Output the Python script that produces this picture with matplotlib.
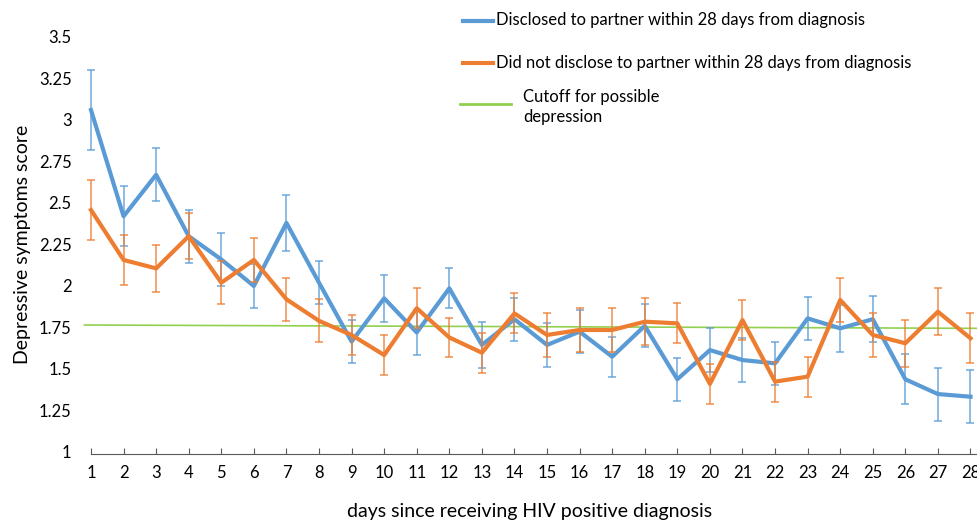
import matplotlib
matplotlib.use("Agg")
import matplotlib.pyplot as plt
from matplotlib.lines import Line2D
from matplotlib.colors import to_rgba

days = list(range(1, 29))
disclosed = [3.06, 2.42, 2.67, 2.30, 2.16, 2.00, 2.38, 2.02, 1.665, 1.926, 1.72, 1.986, 1.645, 1.80,
             1.645, 1.725, 1.574, 1.76, 1.438, 1.614, 1.554, 1.534, 1.805, 1.745, 1.80, 1.438, 1.349, 1.333]
disclosed_err = [0.24, 0.18, 0.16, 0.16, 0.16, 0.13, 0.17, 0.13, 0.13, 0.14, 0.135, 0.12, 0.14, 0.13,
                 0.13, 0.13, 0.12, 0.13, 0.13, 0.13, 0.13, 0.13, 0.13, 0.14, 0.14, 0.15, 0.16, 0.16]
not_disclosed = [2.458, 2.157, 2.106, 2.30, 2.02, 2.157, 1.92, 1.79, 1.705, 1.584, 1.866, 1.69, 1.598, 1.835,
                 1.705, 1.735, 1.735, 1.785, 1.775, 1.41, 1.795, 1.424, 1.454, 1.916, 1.705, 1.655, 1.845, 1.685]
not_disclosed_err = [0.18, 0.15, 0.14, 0.14, 0.13, 0.13, 0.13, 0.13, 0.12, 0.12, 0.12, 0.12, 0.12, 0.12,
                     0.13, 0.13, 0.13, 0.14, 0.12, 0.12, 0.12, 0.12, 0.12, 0.13, 0.13, 0.14, 0.14, 0.15]
cutoff_x = [0.8, 28.2]
cutoff_y = [1.765, 1.745]
yticks = [1, 1.25, 1.5, 1.75, 2, 2.25, 2.5, 2.75, 3, 3.25, 3.5]
ytick_labels = ["1", "1.25", "1.5", "1.75", "2", "2.25", "2.5", "2.75", "3", "3.25", "3.5"]

BLUE = "#5B9BD5"
ORANGE = "#ED7D31"
GREEN = "#92D050"

plt.rcParams['font.family'] = ['Lato', 'DejaVu Sans']

fig = plt.figure(figsize=(9.77, 5.22), dpi=100)
ax = fig.add_axes([91 / 977, 1 - 452 / 522, 1 - 91 / 977, (452 - 37) / 522])
ax.set_xlim(1, 28.2)
ax.set_ylim(1, 3.5)

ax.plot(cutoff_x, cutoff_y, color=GREEN, lw=1.2, clip_on=False, zorder=1)
ax.errorbar(days, disclosed, yerr=disclosed_err, color=BLUE, lw=3, ecolor=to_rgba(BLUE, 0.8),
            elinewidth=1.2, capsize=3, capthick=1.2, zorder=3, clip_on=False)
ax.errorbar(days, not_disclosed, yerr=not_disclosed_err, color=ORANGE, lw=3, ecolor=to_rgba(ORANGE, 0.8),
            elinewidth=1.2, capsize=3, capthick=1.2, zorder=4, clip_on=False)

for s in ["top", "right", "left"]:
    ax.spines[s].set_visible(False)
ax.spines["bottom"].set_color("#595959")
ax.spines["bottom"].set_position(("data", 0.99))
ax.set_xticks(days)
ax.set_xticklabels([str(d) for d in days], fontsize=12)
ax.tick_params(axis="x", direction="in", length=4, color="#595959", pad=8)
ax.set_yticks(yticks)
ax.set_yticklabels(ytick_labels, fontsize=12)
ax.tick_params(axis="y", length=0, pad=14)
ax.set_ylabel("Depressive symptoms score", fontsize=14)
ax.yaxis.set_label_coords(-0.068, 0.5)
ax.set_xlabel("days since receiving HIV positive diagnosis", fontsize=14)
ax.xaxis.set_label_coords((530 - 91) / (977 - 91), -0.122)

def fx(px):
    return px / 977

def fy(py):
    return 1 - py / 522

fig.add_artist(Line2D([fx(463), fx(493)], [fy(20.5), fy(20.5)], color=BLUE, lw=3))
fig.text(fx(496), fy(20.5), "Disclosed to partner within 28 days from diagnosis", fontsize=12, va="center")
fig.add_artist(Line2D([fx(463), fx(493)], [fy(63), fy(63)], color=ORANGE, lw=3))
fig.text(fx(496), fy(63), "Did not disclose to partner within 28 days from diagnosis", fontsize=12, va="center")
fig.add_artist(Line2D([fx(460), fx(511)], [fy(104), fy(104)], color=GREEN, lw=2))
fig.text(fx(523), fy(97), "Cutoff for possible", fontsize=12, va="center")
fig.text(fx(523), fy(117), "depression", fontsize=12, va="center")

fig.savefig("out.png", dpi=100)
